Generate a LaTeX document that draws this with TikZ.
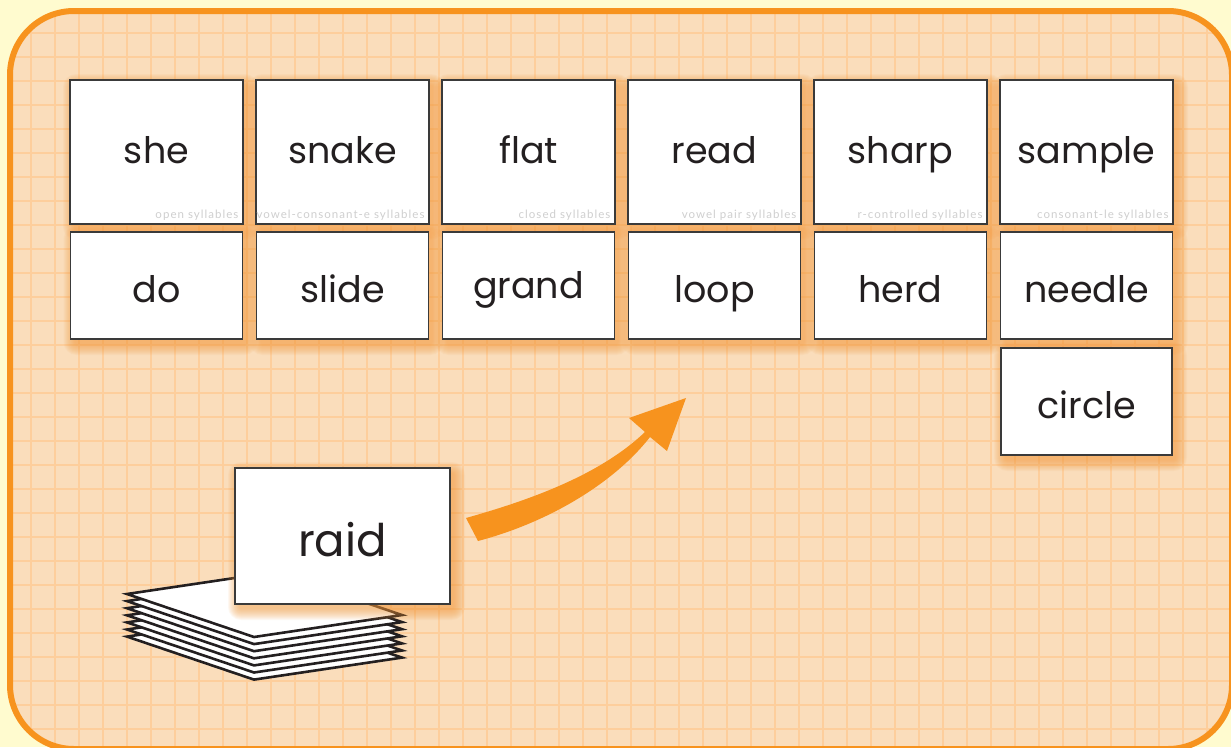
\documentclass[tikz,border=0pt]{standalone}
\usepackage{fontspec}
\newfontfamily\wordfont{Poppins}
\newfontfamily\labfont[LetterSpace=9]{Lato}
\usetikzlibrary{calc}
\definecolor{bgy}{HTML}{FFFBCF}
\definecolor{frameo}{HTML}{F7931E}
\definecolor{peach}{HTML}{FADDBB}
\definecolor{gridc}{HTML}{FDCE9C}
\definecolor{shadc}{HTML}{F59A3C}
\definecolor{ink}{HTML}{231F20}
\definecolor{labc}{HTML}{CFCFCF}
\definecolor{cardline}{HTML}{3A3A3A}
\tikzset{
  card/.style={draw=cardline, line width=1.3pt, fill=white, inner sep=0pt, rectangle},
  word/.style={font=\wordfont\fontsize{36.5}{36}\selectfont, text=ink, anchor=base, inner sep=0pt},
  bigword/.style={word, font=\wordfont\fontsize{45}{45}\selectfont},
  lab/.style={font=\labfont\fontsize{11.5}{12}\selectfont, text=labc, anchor=base east, inner sep=0pt},
  sheet/.style={fill=white, draw=ink, line width=2.6pt, line join=miter},
  arrowshape/.style={fill=frameo},
}
\newcommand\cardat[5]{%
  \foreach \i in {0,...,11}{%
    \pgfmathsetmacro\rr{\i+2}%
    \fill[shadc, opacity=0.065, rounded corners=\rr pt]
      ({#2-#4/2+4-\i},{#3-#5/2+5-\i}) rectangle ({#2+#4/2+4+\i},{#3+#5/2+5+\i});
  }
  \node[card, minimum width=#4pt, minimum height=#5pt] (#1) at (#2,#3) {};
}
\begin{document}
\begin{tikzpicture}[x=1pt,y=-1pt]
\useasboundingbox (0,0) rectangle (1231,747);
\fill[bgy] (0,0) rectangle (1231,747);
\fill[peach, rounded corners=64pt] (10,11) rectangle (1232,749);
\begin{scope}
  \clip[rounded corners=64pt] (10,11) rectangle (1232,749);
  \foreach \x in {31,55,...,1231} \draw[gridc, line width=1.1pt] (\x,0) -- (\x,760);
  \foreach \y in {9,33,...,747} \draw[gridc, line width=1.1pt] (0,\y) -- (1240,\y);
\end{scope}
\draw[frameo, line width=6pt, rounded corners=64pt] (10,11) rectangle (1232,749);

% top row
\cardat{c1}{156.5}{152}{173}{144}
\cardat{c2}{342.5}{152}{173}{144}
\cardat{c3}{528.5}{152}{173}{144}
\cardat{c4}{714.5}{152}{173}{144}
\cardat{c5}{900.5}{152}{173}{144}
\cardat{c6}{1086.5}{152}{173}{144}
% second row
\cardat{d1}{156.5}{285.5}{172}{107}
\cardat{d2}{342.5}{285.5}{172}{107}
\cardat{d3}{528.5}{285.5}{172}{107}
\cardat{d4}{714.5}{285.5}{172}{107}
\cardat{d5}{900.5}{285.5}{172}{107}
\cardat{d6}{1086.5}{285.5}{172}{107}
\cardat{e6}{1086.5}{401.5}{171}{107}

\node[word] (w1) at ($(c1.center)+(0,11)$) {she};
\node[word] (w2) at ($(c2.center)+(0,11)$) {snake};
\node[word] (w3) at ($(c3.center)+(0,11)$) {flat};
\node[word] (w4) at ($(c4.center)+(0,11)$) {read};
\node[word] (w5) at ($(c5.center)+(0,11)$) {sharp};
\node[word] (w6) at ($(c6.center)+(0,11)$) {sample};

\node[lab] (l1) at ($(c1.south east)+(-5,-6)$) {open syllables};
\node[lab] (l2) at ($(c2.south east)+(-5,-6)$) {vowel-consonant-e syllables};
\node[lab] (l3) at ($(c3.south east)+(-5,-6)$) {closed syllables};
\node[lab] (l4) at ($(c4.south east)+(-5,-6)$) {vowel pair syllables};
\node[lab] (l5) at ($(c5.south east)+(-5,-6)$) {r-controlled syllables};
\node[lab] (l6) at ($(c6.south east)+(-5,-6)$) {consonant-le syllables};

\node[word] (v1) at ($(d1.center)+(0,16.5)$) {do};
\node[word] (v2) at ($(d2.center)+(0,16.5)$) {slide};
\node[word] (v3) at ($(d3.center)+(0,12.5)$) {grand};
\node[word] (v4) at ($(d4.center)+(0,16.5)$) {loop};
\node[word] (v5) at ($(d5.center)+(0,16.5)$) {herd};
\node[word] (v6) at ($(d6.center)+(0,16.5)$) {needle};
\node[word] (u6) at ($(e6.center)+(0,16.5)$) {circle};

% stack of cards
\foreach \k in {6,5,...,0}{
  \filldraw[sheet] (127,{594+7.1*\k}) -- (254,{637+7.1*\k}) -- (402,{615+7.1*\k}) -- (275,{572+7.1*\k}) -- cycle;
}
% raid card
\cardat{r}{342.5}{536}{215}{136}
\node[bigword] (rw) at ($(r.center)+(0,20.5)$) {raid};

% arrow
\fill[arrowshape] (466,518) .. controls (530,500) and (600,475) .. (645,432)
  -- (629,418) -- (686,398) -- (667,451) -- (650,437)
  .. controls (615,482) and (550,522) .. (478,541) -- cycle;
\end{tikzpicture}
\end{document}
